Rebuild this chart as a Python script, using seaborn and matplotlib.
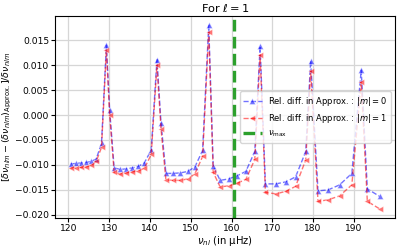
import matplotlib
matplotlib.use("Agg")
import matplotlib.pyplot as plt
import seaborn as sns
import pandas as pd

nu = [120.5, 121.9, 123.1, 124.3, 125.6, 126.8, 128.1, 129.3, 130.1,
      131.2, 132.7, 134.1, 135.6, 137.1, 138.6, 140.3, 141.7, 142.7,
      143.9, 145.6, 147.4, 149.3, 151.0, 152.9, 154.4, 155.5,
      157.2, 159.3, 161.3, 163.5, 165.7, 167.0, 168.3,
      170.9, 173.3, 175.7, 178.2, 179.4, 181.2,
      183.7, 186.5, 189.5, 191.8, 193.3, 196.3]

rel_m0 = [-0.0098, -0.0097, -0.0096, -0.0095, -0.0093, -0.0088, -0.0057, 0.0140, 0.0010,
          -0.0106, -0.0109, -0.0108, -0.0106, -0.0103, -0.0096, -0.0070, 0.0111, -0.0016,
          -0.0117, -0.0117, -0.0116, -0.0113, -0.0104, -0.0071, 0.0180, -0.0102,
          -0.0131, -0.0128, -0.0122, -0.0113, -0.0073, 0.0138, -0.0138,
          -0.0138, -0.0134, -0.0124, -0.0073, 0.0109, -0.0152,
          -0.0150, -0.0140, -0.0117, 0.0090, -0.0148, -0.0163]

rel_m1 = [-0.0106, -0.0106, -0.0105, -0.0104, -0.0101, -0.0093, -0.0065, 0.0130, 0.0001,
          -0.0115, -0.0118, -0.0116, -0.0114, -0.0112, -0.0107, -0.0079, 0.0100, -0.0028,
          -0.0130, -0.0131, -0.0131, -0.0128, -0.0118, -0.0083, 0.0166, -0.0115,
          -0.0144, -0.0142, -0.0137, -0.0129, -0.0089, 0.0121, -0.0155,
          -0.0158, -0.0153, -0.0143, -0.0090, 0.0089, -0.0173,
          -0.0170, -0.0162, -0.0140, 0.0066, -0.0173, -0.0188]

nu_max = 160.7

labels = ["Rel. diff. in Approx. : $|m| = 0$",
          "Rel. diff. in Approx. : $|m| = 1$",
          r"$\nu_{\rm max}$"]

df = pd.DataFrame({"nu": nu, "m0": rel_m0, "m1": rel_m1})

plt.rcParams.update({"font.size": 6.6})
fig, ax = plt.subplots(figsize=(3.99, 2.48), dpi=100)
fig.subplots_adjust(left=0.138, right=0.99, top=0.935, bottom=0.121)

ax.grid(True, color="#d6d6d6", lw=0.9, zorder=0)
ax.set_axisbelow(True)

sns.lineplot(data=df, x="nu", y="m0", ax=ax, color="b", alpha=0.55,
             linestyle="--", marker="^", markersize=4.2, markeredgewidth=0.5,
             lw=1.0, label=labels[0])
sns.lineplot(data=df, x="nu", y="m1", ax=ax, color="r", alpha=0.55,
             linestyle="--", marker="<", markersize=4.2, markeredgewidth=0.5,
             lw=1.0, label=labels[1])
ax.axvline(nu_max, color="#2ca02c", linestyle=(0, (3.5, 1.6)), lw=2.4, label=labels[2])

ax.set_xticks([120, 130, 140, 150, 160, 170, 180, 190])
ax.set_yticks([-0.020, -0.015, -0.010, -0.005, 0.000, 0.005, 0.010, 0.015])
ax.set_xlabel(r"$\nu_{nl}$ (in μHz)", fontsize=7.2, labelpad=1)
ax.set_ylabel(r"$[\delta\nu_{nlm} - (\delta\nu_{nlm})_{\rm Approx.}]/\delta\nu_{nlm}$",
              fontsize=6.8, labelpad=1)
ax.set_title(r"For $\ell = 1$", fontsize=8.2, pad=3)
ax.tick_params(labelsize=6.6, length=2.8, pad=1.5)
ax.legend(loc="center right", fontsize=6.0, framealpha=0.8, handlelength=2.2)

fig.savefig("out.png", dpi=100)
